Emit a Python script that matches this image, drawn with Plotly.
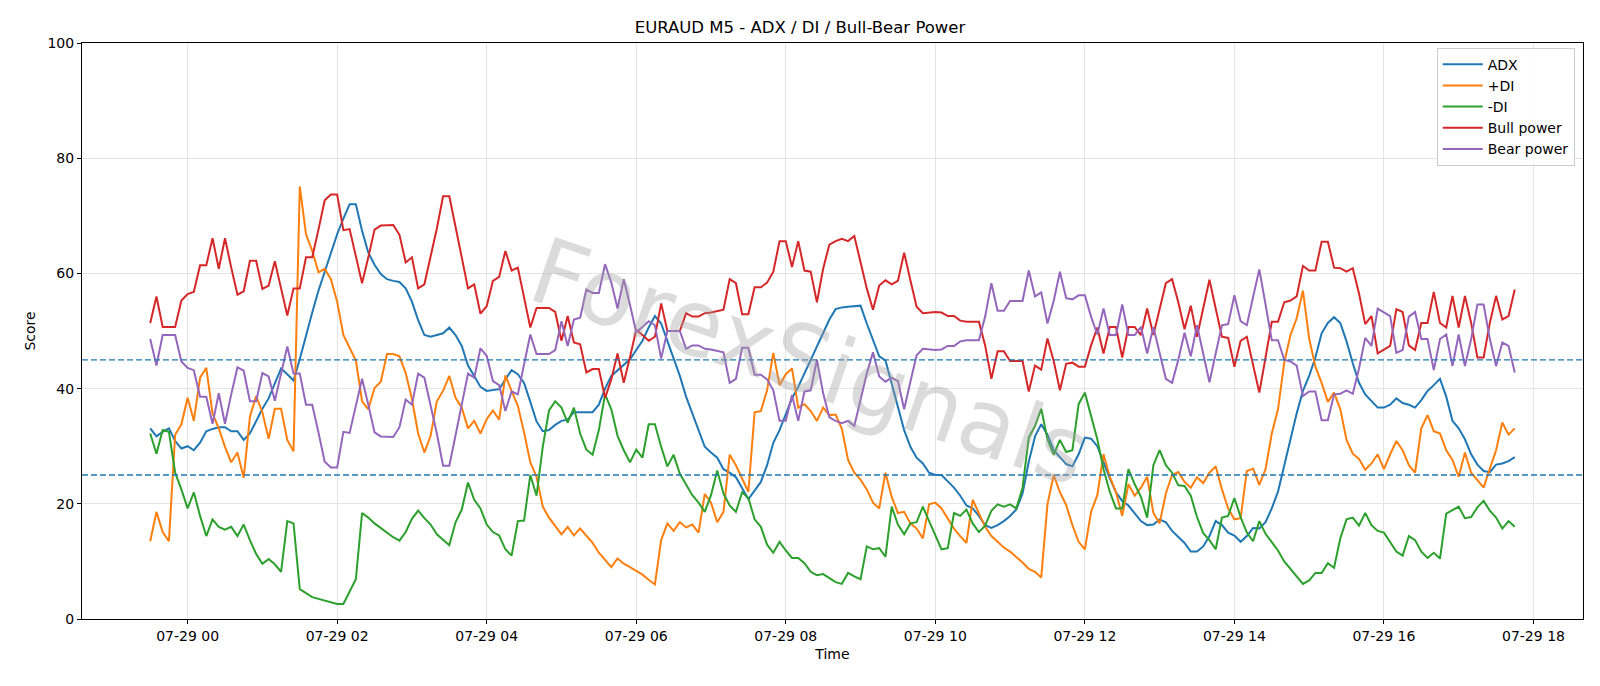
import pandas as pd
import plotly.graph_objects as go

# ---- data (5-minute bars, 07-28 23:30 .. 07-29 17:45) ----
start_time = "2025-07-28 23:30"
n_points = 220

adx = [33.1, 31.7, 32.5, 33.1, 30.9, 29.6, 30.0, 29.3, 30.6, 32.6, 33.0, 33.3, 33.3, 32.6, 32.6, 31.1, 32.2, 34.3, 36.5,
       38.3, 40.9, 43.5, 42.5, 41.4, 45.1, 49.3, 53.2, 57.0, 60.3, 63.7, 66.8, 69.5, 72.0, 72.0, 67.4, 63.6,
       61.5, 59.9, 59.0, 58.7, 58.5, 57.4, 55.1, 51.9, 49.3, 49.0, 49.3, 49.6, 50.6, 49.3, 47.4, 44.0, 42.2, 40.3, 39.6,
       39.7, 39.9, 41.6, 43.2, 42.5, 41.0, 37.7, 34.3, 32.6, 32.8, 33.7, 34.4, 34.6, 35.9, 35.9, 35.9, 35.9, 37.2, 40.0,
       42.2, 43.2, 44.1, 45.1, 46.7, 48.3, 50.6, 52.6, 51.3, 48.2, 45.1, 42.2, 38.6, 35.7, 32.8, 29.9, 28.9, 28.0,
       26.0, 25.4, 24.6, 22.8, 20.8, 22.3, 23.8, 26.7, 30.6, 32.8, 35.4, 38.3, 40.3, 42.7, 45.1, 47.5, 49.8, 52.0, 53.8,
       54.1, 54.2, 54.3, 54.4, 51.3, 48.3, 45.6, 44.9, 40.9, 36.7, 32.8, 29.9, 28.0, 27.0, 25.4, 25.0, 25.0, 23.9,
       22.8, 21.4, 19.7, 19.2, 17.9, 16.3, 15.8, 16.3, 17.0, 17.9, 19.0, 21.8, 27.3, 31.7, 33.8, 32.0, 29.3, 28.1, 26.9,
       26.5, 28.6, 31.5, 31.3, 30.0, 27.2, 24.4, 22.0, 20.5, 19.7, 18.4, 17.0, 16.3, 16.4, 17.3, 16.8, 15.3, 14.3,
       13.2, 11.7, 11.7, 12.6, 14.4, 17.0, 16.3, 15.0, 14.5, 13.4, 14.4, 15.8, 15.7, 16.8, 19.2, 22.1, 26.7, 31.5,
       35.7, 39.6, 42.2, 45.4, 49.6, 51.4, 52.4, 51.4, 48.2, 44.4, 41.0, 39.0, 37.8, 36.7, 36.7, 37.2, 38.3, 37.5, 37.2,
       36.7, 38.0, 39.6, 40.6, 41.7, 38.6, 34.4, 33.1, 31.2, 28.6, 26.8, 25.7, 25.5, 26.8, 27.0, 27.4, 28.1]

plus_di = [13.5, 18.6, 15.1, 13.5, 32.0, 33.8, 38.4, 34.4, 41.9, 43.6, 35.7, 33.1, 29.9, 27.2, 28.9, 24.5, 35.1, 38.7, 35.9,
           31.3, 36.5, 36.5, 31.1, 29.1, 75.1, 66.8, 63.9, 60.2, 60.8, 59.0, 55.1, 49.3, 47.1, 44.9, 37.8, 36.4,
           40.1, 41.2, 46.0, 46.0, 45.6, 42.7, 38.2, 32.2, 28.9, 31.8, 37.8, 39.6, 42.2, 38.4, 36.7, 33.1, 34.4, 32.2, 34.7,
           36.2, 34.6, 42.3, 39.6, 37.0, 32.4, 27.2, 24.7, 19.5, 17.6, 16.1, 14.7, 16.0, 14.5, 15.7, 14.4, 13.2, 11.5, 10.2,
           9.0, 10.5, 9.6, 9.0, 8.4, 7.7, 6.8, 6.0, 13.7, 16.6, 15.3, 16.8, 15.9, 16.4, 15.0, 21.7, 20.2, 16.8,
           18.6, 28.5, 26.7, 24.4, 22.1, 35.9, 36.1, 39.7, 46.2, 40.6, 42.5, 43.5, 36.7, 37.3, 36.1, 34.4, 36.7, 35.4, 35.5,
           33.0, 27.6, 25.4, 24.2, 22.5, 20.2, 19.2, 25.4, 21.2, 18.4, 18.6, 16.6, 15.7, 14.0, 19.9, 20.2, 19.2, 17.5,
           15.7, 14.4, 13.2, 20.7, 18.4, 16.0, 14.4, 13.4, 12.4, 11.7, 10.8, 9.8, 8.7, 8.2, 7.2, 19.9, 25.0, 22.0, 19.8,
           16.3, 13.4, 12.1, 18.6, 21.5, 28.6, 24.7, 22.0, 17.9, 23.4, 21.4, 22.8, 24.7, 18.4, 16.6, 21.8, 25.0, 25.5,
           23.8, 22.8, 24.6, 23.6, 25.4, 26.5, 22.5, 19.2, 17.3, 17.5, 25.7, 26.1, 23.3, 26.0, 32.2, 36.4, 44.5, 49.3,
           52.2, 57.0, 48.7, 43.8, 41.0, 37.7, 39.3, 36.4, 31.1, 28.7, 27.8, 25.9, 27.0, 28.6, 26.0, 28.6, 30.9, 29.3, 26.7,
           25.4, 33.1, 35.4, 32.6, 32.2, 29.3, 27.6, 24.7, 28.9, 25.4, 24.1, 22.8, 26.1, 29.3, 34.1, 32.0, 33.1]

minus_di = [32.2, 28.7, 32.8, 32.5, 25.4, 22.5, 19.2, 22.0, 17.9, 14.4, 17.3, 16.0, 15.5, 16.0, 14.4, 16.4, 13.7, 11.3, 9.6,
            10.4, 9.5, 8.2, 17.0, 16.6, 5.2, 4.5, 3.8, 3.5, 3.2, 2.8, 2.6, 2.6, 4.7, 6.9, 18.4, 17.6,
            16.6, 15.8, 15.1, 14.2, 13.6, 15.1, 17.4, 18.8, 17.5, 16.4, 14.7, 13.7, 12.8, 16.8, 19.0, 23.7, 20.7, 19.2, 16.4,
            15.1, 14.5, 12.1, 11.0, 17.0, 17.1, 25.0, 21.4, 29.9, 36.2, 37.8, 36.7, 34.1, 36.7, 32.2, 29.4, 28.5, 32.8, 39.0,
            36.4, 31.8, 29.3, 27.2, 29.4, 28.0, 33.8, 33.8, 29.9, 26.5, 28.5, 25.2, 23.4, 21.5, 20.2, 18.6, 21.5, 25.8,
            21.8, 19.7, 18.6, 22.0, 21.0, 17.3, 16.0, 12.9, 11.5, 13.4, 11.9, 10.6, 10.6, 9.7, 8.2, 7.6, 7.8, 7.1, 6.4,
            6.1, 8.0, 7.4, 6.9, 12.6, 12.1, 12.3, 10.8, 19.5, 16.4, 14.7, 16.6, 16.8, 19.5, 17.0, 14.7, 12.1, 12.3,
            18.4, 17.9, 19.0, 16.6, 15.1, 16.2, 18.8, 19.9, 19.5, 19.9, 19.2, 22.8, 31.5, 33.5, 36.5, 31.2, 28.5, 31.1, 29.0,
            29.3, 37.3, 39.3, 35.1, 31.2, 26.0, 22.1, 19.2, 19.2, 26.0, 23.4, 21.2, 17.6, 26.7, 29.3, 26.7, 25.4, 23.2,
            23.1, 21.4, 17.7, 14.9, 13.7, 12.1, 17.6, 17.9, 21.0, 17.7, 15.0, 13.5, 17.0, 14.8, 13.4, 11.9, 10.0, 8.7,
            7.2, 6.1, 6.7, 8.0, 8.0, 9.7, 8.9, 14.0, 17.3, 17.6, 16.2, 18.4, 16.3, 15.3, 15.0, 13.4, 11.7, 11.0, 14.4,
            13.7, 11.7, 10.6, 11.5, 10.5, 18.3, 18.9, 19.5, 17.5, 17.7, 19.4, 20.5, 18.8, 17.6, 15.7, 17.0, 16.0]

bull_power = [51.4, 56.0, 50.7, 50.7, 50.7, 55.3, 56.4, 56.8, 61.4, 61.4, 66.1, 60.8, 66.1, 61.0, 56.3, 56.9, 62.2, 62.2, 57.3,
              57.9, 62.1, 57.4, 52.7, 57.4, 57.4, 62.8, 62.8, 67.6, 72.7, 73.7, 73.7, 67.5, 67.7, 63.0, 58.3, 62.8,
              67.6, 68.3, 68.4, 68.4, 66.7, 61.9, 62.8, 57.4, 58.1, 62.9, 67.8, 73.4, 73.4, 68.1, 62.9, 57.4, 58.1, 53.0, 54.3,
              58.7, 59.4, 63.9, 60.5, 61.0, 55.8, 50.6, 54.0, 54.0, 54.0, 53.3, 48.3, 52.6, 48.0, 47.7, 42.8, 43.4, 43.4, 38.4,
              41.6, 46.1, 41.0, 45.5, 50.2, 49.3, 48.3, 49.0, 54.8, 50.0, 50.0, 50.0, 53.1, 52.5, 52.5, 53.1, 53.2, 53.5,
              53.7, 59.0, 58.3, 52.9, 52.9, 57.6, 57.6, 58.4, 60.3, 65.6, 65.6, 61.1, 65.6, 60.5, 60.3, 55.0, 60.8, 65.0, 65.6,
              66.0, 65.6, 66.5, 61.7, 57.4, 53.7, 57.9, 58.8, 58.1, 58.7, 63.6, 58.8, 54.2, 53.1, 53.2, 53.3, 53.2, 52.6,
              52.6, 51.8, 51.6, 51.6, 51.6, 47.5, 41.7, 46.5, 46.5, 44.8, 44.8, 44.8, 39.5, 44.0, 43.3, 48.7, 44.8, 39.7, 44.3,
              44.5, 43.8, 43.8, 47.5, 50.6, 46.1, 50.7, 50.7, 45.4, 50.7, 50.7, 49.3, 53.9, 49.3, 54.0, 58.3, 59.0, 55.0,
              50.3, 54.4, 49.0, 53.9, 58.9, 53.9, 49.0, 48.8, 43.8, 48.3, 49.0, 44.1, 39.3, 45.4, 51.6, 51.6, 55.0, 55.3,
              56.0, 61.3, 60.5, 60.5, 65.5, 65.5, 61.0, 60.9, 60.3, 60.9, 56.5, 51.2, 52.6, 46.1, 46.7, 47.4, 53.8, 53.3, 47.5,
              46.7, 51.4, 51.4, 56.8, 51.4, 50.6, 56.1, 50.6, 56.1, 51.4, 45.4, 45.4, 51.4, 56.1, 52.0, 52.6, 57.2]

bear_power = [48.6, 44.0, 49.3, 49.3, 49.3, 44.7, 43.6, 43.2, 38.6, 38.6, 33.9, 39.2, 33.9, 39.0, 43.7, 43.1, 37.8, 37.8, 42.7,
              42.1, 37.9, 42.6, 47.3, 42.6, 42.6, 37.2, 37.2, 32.4, 27.3, 26.3, 26.3, 32.5, 32.3, 37.0, 41.7, 37.2,
              32.4, 31.7, 31.6, 31.6, 33.3, 38.1, 37.2, 42.6, 41.9, 37.1, 32.2, 26.6, 26.6, 31.9, 37.1, 42.6, 41.9, 47.0, 45.7,
              41.3, 40.6, 36.1, 39.5, 39.0, 44.2, 49.4, 46.0, 46.0, 46.0, 46.7, 51.7, 47.4, 52.0, 52.3, 57.2, 56.6, 56.6, 61.6,
              58.4, 53.9, 59.0, 54.5, 49.8, 50.7, 51.7, 51.0, 45.2, 50.0, 50.0, 50.0, 46.9, 47.5, 47.5, 46.9, 46.8, 46.5,
              46.3, 41.0, 41.7, 47.1, 47.1, 42.4, 42.4, 41.6, 39.7, 34.4, 34.4, 38.9, 34.4, 39.5, 39.7, 45.0, 39.2, 35.0, 34.4,
              34.0, 34.4, 33.5, 38.3, 42.6, 46.3, 42.1, 41.2, 41.9, 41.3, 36.4, 41.2, 45.8, 46.9, 46.8, 46.7, 46.8, 47.4,
              47.4, 48.2, 48.4, 48.4, 48.4, 52.5, 58.3, 53.5, 53.5, 55.2, 55.2, 55.2, 60.5, 56.0, 56.7, 51.3, 55.2, 60.3, 55.7,
              55.5, 56.2, 56.2, 52.5, 49.4, 53.9, 49.3, 49.3, 54.6, 49.3, 49.3, 50.7, 46.1, 50.7, 46.0, 41.7, 41.0, 45.0,
              49.7, 45.6, 51.0, 46.1, 41.1, 46.1, 51.0, 51.2, 56.2, 51.7, 51.0, 55.9, 60.7, 54.6, 48.4, 48.4, 45.0, 44.7,
              44.0, 38.7, 39.5, 39.5, 34.5, 34.5, 39.0, 39.1, 39.7, 39.1, 43.5, 48.8, 47.4, 53.9, 53.3, 52.6, 46.2, 46.7, 52.5,
              53.3, 48.6, 48.6, 43.2, 48.6, 49.4, 43.9, 49.4, 43.9, 48.6, 54.6, 54.6, 48.6, 43.9, 48.0, 47.4, 42.8]

series_names = ["ADX", "+DI", "-DI", "Bull power", "Bear power"]
series_colors = ["#1f77b4", "#ff7f0e", "#2ca02c", "#d62728", "#9467bd"]
threshold_levels = [45, 25]
y_ticks = [0, 20, 40, 60, 80, 100]
x_tick_times = ["2025-07-29 00:00", "2025-07-29 02:00", "2025-07-29 04:00", "2025-07-29 06:00", "2025-07-29 08:00",
                "2025-07-29 10:00", "2025-07-29 12:00", "2025-07-29 14:00", "2025-07-29 16:00", "2025-07-29 18:00"]
x_tick_labels = ["07-29 00", "07-29 02", "07-29 04", "07-29 06", "07-29 08",
                 "07-29 10", "07-29 12", "07-29 14", "07-29 16", "07-29 18"]

times = pd.date_range(start_time, periods=n_points, freq="5min")
span = times[-1] - times[0]
x_range = [times[0] - span * 0.05, times[-1] + span * 0.05]

FONT = "DejaVu Sans, Liberation Sans, Arial, sans-serif"

fig = go.Figure()
for name, vals, col in zip(series_names, [adx, plus_di, minus_di, bull_power, bear_power], series_colors):
    fig.add_trace(go.Scatter(x=times, y=vals, mode="lines", name=name,
                             line=dict(color=col, width=2)))

for lvl in threshold_levels:
    fig.add_shape(type="line", xref="paper", x0=0, x1=1, yref="y", y0=lvl, y1=lvl,
                  line=dict(color="#1f77b4", width=1.3, dash="6px,3px"), layer="above")

fig.add_annotation(text="ForexSignals", xref="paper", yref="paper", x=0.485, y=0.445,
                   showarrow=False, textangle=19,
                   font=dict(family=FONT, size=92, color="rgba(160,160,160,0.38)"))

fig.update_layout(
    width=1600, height=686,
    paper_bgcolor="white", plot_bgcolor="white",
    margin=dict(l=82, r=17, t=43, b=67),
    font=dict(family=FONT, size=14, color="black"),
    title=dict(text="EURAUD M5 - ADX / DI / Bull-Bear Power", x=0.5, xanchor="center",
               y=1 - 27 / 686, yanchor="middle", font=dict(size=16.5, family=FONT)),
    showlegend=True,
    legend=dict(x=0.9945, y=0.992, xanchor="right", yanchor="top",
                bgcolor="rgba(255,255,255,0.85)", bordercolor="#cccccc", borderwidth=1,
                font=dict(size=14, family=FONT), tracegroupgap=0, itemwidth=40),
)

fig.update_xaxes(range=x_range, tickvals=x_tick_times, ticktext=x_tick_labels,
                 showgrid=True, gridcolor="#e5e5e5", gridwidth=1,
                 showline=True, linecolor="black", linewidth=1, mirror=True,
                 ticks="outside", ticklen=4, tickcolor="black",
                 tickfont=dict(size=14), zeroline=False,
                 title=dict(text="Time", font=dict(size=14), standoff=6))
fig.update_yaxes(range=[0, 100], tickvals=y_ticks,
                 showgrid=True, gridcolor="#e5e5e5", gridwidth=1,
                 showline=True, linecolor="black", linewidth=1, mirror=True,
                 ticks="outside", ticklen=4, tickcolor="black",
                 tickfont=dict(size=14), zeroline=False,
                 title=dict(text="Score", font=dict(size=14), standoff=8))

fig.write_html("out.html")
